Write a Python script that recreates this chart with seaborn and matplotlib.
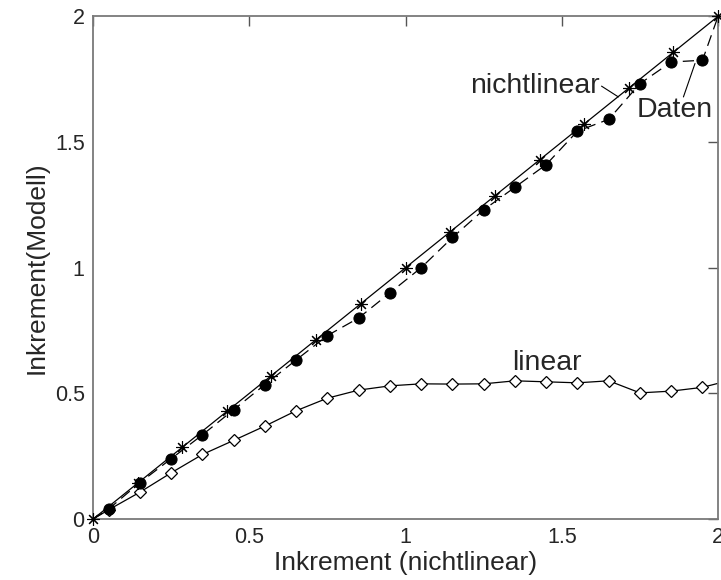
import matplotlib
matplotlib.use("Agg")
import matplotlib.pyplot as plt
import seaborn as sns
import pandas as pd

# Nonlinear model increments (solid line, asterisks)
x_nonlin = [0.0, 0.143, 0.286, 0.429, 0.571, 0.714, 0.857, 1.0,
            1.143, 1.286, 1.429, 1.571, 1.714, 1.857, 2.0]
y_nonlin = [0.0, 0.143, 0.286, 0.429, 0.571, 0.714, 0.857, 1.0,
            1.143, 1.286, 1.429, 1.571, 1.714, 1.857, 2.0]

# Measured data (dashed line, filled circles); end points carry no marker
x_data = [0.0, 0.05, 0.15, 0.25, 0.35, 0.45, 0.55, 0.65, 0.75, 0.85, 0.95,
          1.05, 1.15, 1.25, 1.35, 1.45, 1.55, 1.65, 1.75, 1.85, 1.95, 2.0]
y_data = [0.0, 0.04, 0.145, 0.24, 0.335, 0.435, 0.535, 0.633, 0.73, 0.80, 0.90,
          1.00, 1.12, 1.23, 1.32, 1.41, 1.543, 1.59, 1.732, 1.818, 1.825, 2.0]

# Linear model increments (solid line, open diamonds)
x_lin = [0.0, 0.05, 0.15, 0.25, 0.35, 0.45, 0.55, 0.65, 0.75, 0.85, 0.95,
         1.05, 1.15, 1.25, 1.35, 1.45, 1.55, 1.65, 1.75, 1.85, 1.95, 2.0]
y_lin = [0.0, 0.037, 0.107, 0.184, 0.257, 0.313, 0.37, 0.431, 0.481, 0.513, 0.53,
         0.538, 0.537, 0.538, 0.55, 0.546, 0.542, 0.55, 0.502, 0.509, 0.524, 0.54]

ticks = [0, 0.5, 1, 1.5, 2]
tick_labels = ["0", "0.5", "1", "1.5", "2"]

sns.set_style("white")
plt.rcParams["font.family"] = ["Liberation Sans", "DejaVu Sans"]

fig = plt.figure(figsize=(7.21, 5.80), dpi=100)
ax = fig.add_axes([0.129, 0.105, 0.867, 0.867])

df_nl = pd.DataFrame({"x": x_nonlin, "y": y_nonlin})
df_d = pd.DataFrame({"x": x_data, "y": y_data})
df_l = pd.DataFrame({"x": x_lin, "y": y_lin})

sns.lineplot(data=df_l, x="x", y="y", ax=ax, color="black", lw=0.9,
             marker="D", markersize=6, markerfacecolor="white",
             markeredgecolor="black", markeredgewidth=0.9,
             markevery=list(range(1, len(x_lin) - 1)), sort=False,
             estimator=None)
sns.lineplot(data=df_d, x="x", y="y", ax=ax, color="black", lw=0.9,
             marker="o", markersize=8, markerfacecolor="black",
             markeredgecolor="black", markevery=list(range(1, len(x_data) - 1)),
             sort=False, estimator=None)
ax.lines[-1].set_dashes([9, 5])
sns.lineplot(data=df_nl, x="x", y="y", ax=ax, color="black", lw=0.9,
             marker=(8, 2, 0), markersize=9, markeredgecolor="black",
             markeredgewidth=0.8, sort=False, estimator=None)
ax.lines[-1].set_clip_on(False)
ax.lines[-1].set_zorder(5)

ax.set_xlim(0, 2)
ax.set_ylim(0, 2)
ax.set_xticks(ticks)
ax.set_xticklabels(tick_labels)
ax.set_yticks(ticks)
ax.set_yticklabels(tick_labels)
ax.tick_params(direction="in", length=7, width=1, color="#555555",
               top=True, right=True, labelsize=15.5, pad=6)
for sp in ax.spines.values():
    sp.set_visible(True)
    sp.set_color("#7a7a7a")
    sp.set_linewidth(1.3)

ax.set_xlabel("Inkrement (nichtlinear)", fontsize=19, labelpad=2)
ax.set_ylabel("Inkrement(Modell)", fontsize=19, labelpad=4)

# Curve labels with leader lines
ax.text(1.622, 1.722, "nichtlinear", fontsize=20.5, ha="right", va="center")
ax.plot([1.627, 1.681], [1.722, 1.679], color="black", lw=0.8)
ax.text(1.862, 1.626, "Daten", fontsize=20.5, ha="center", va="center")
ax.plot([1.889, 1.926], [1.679, 1.812], color="black", lw=0.8)
ax.text(1.452, 0.621, "linear", fontsize=20.5, ha="center", va="center")

fig.savefig("out.png", dpi=100)
